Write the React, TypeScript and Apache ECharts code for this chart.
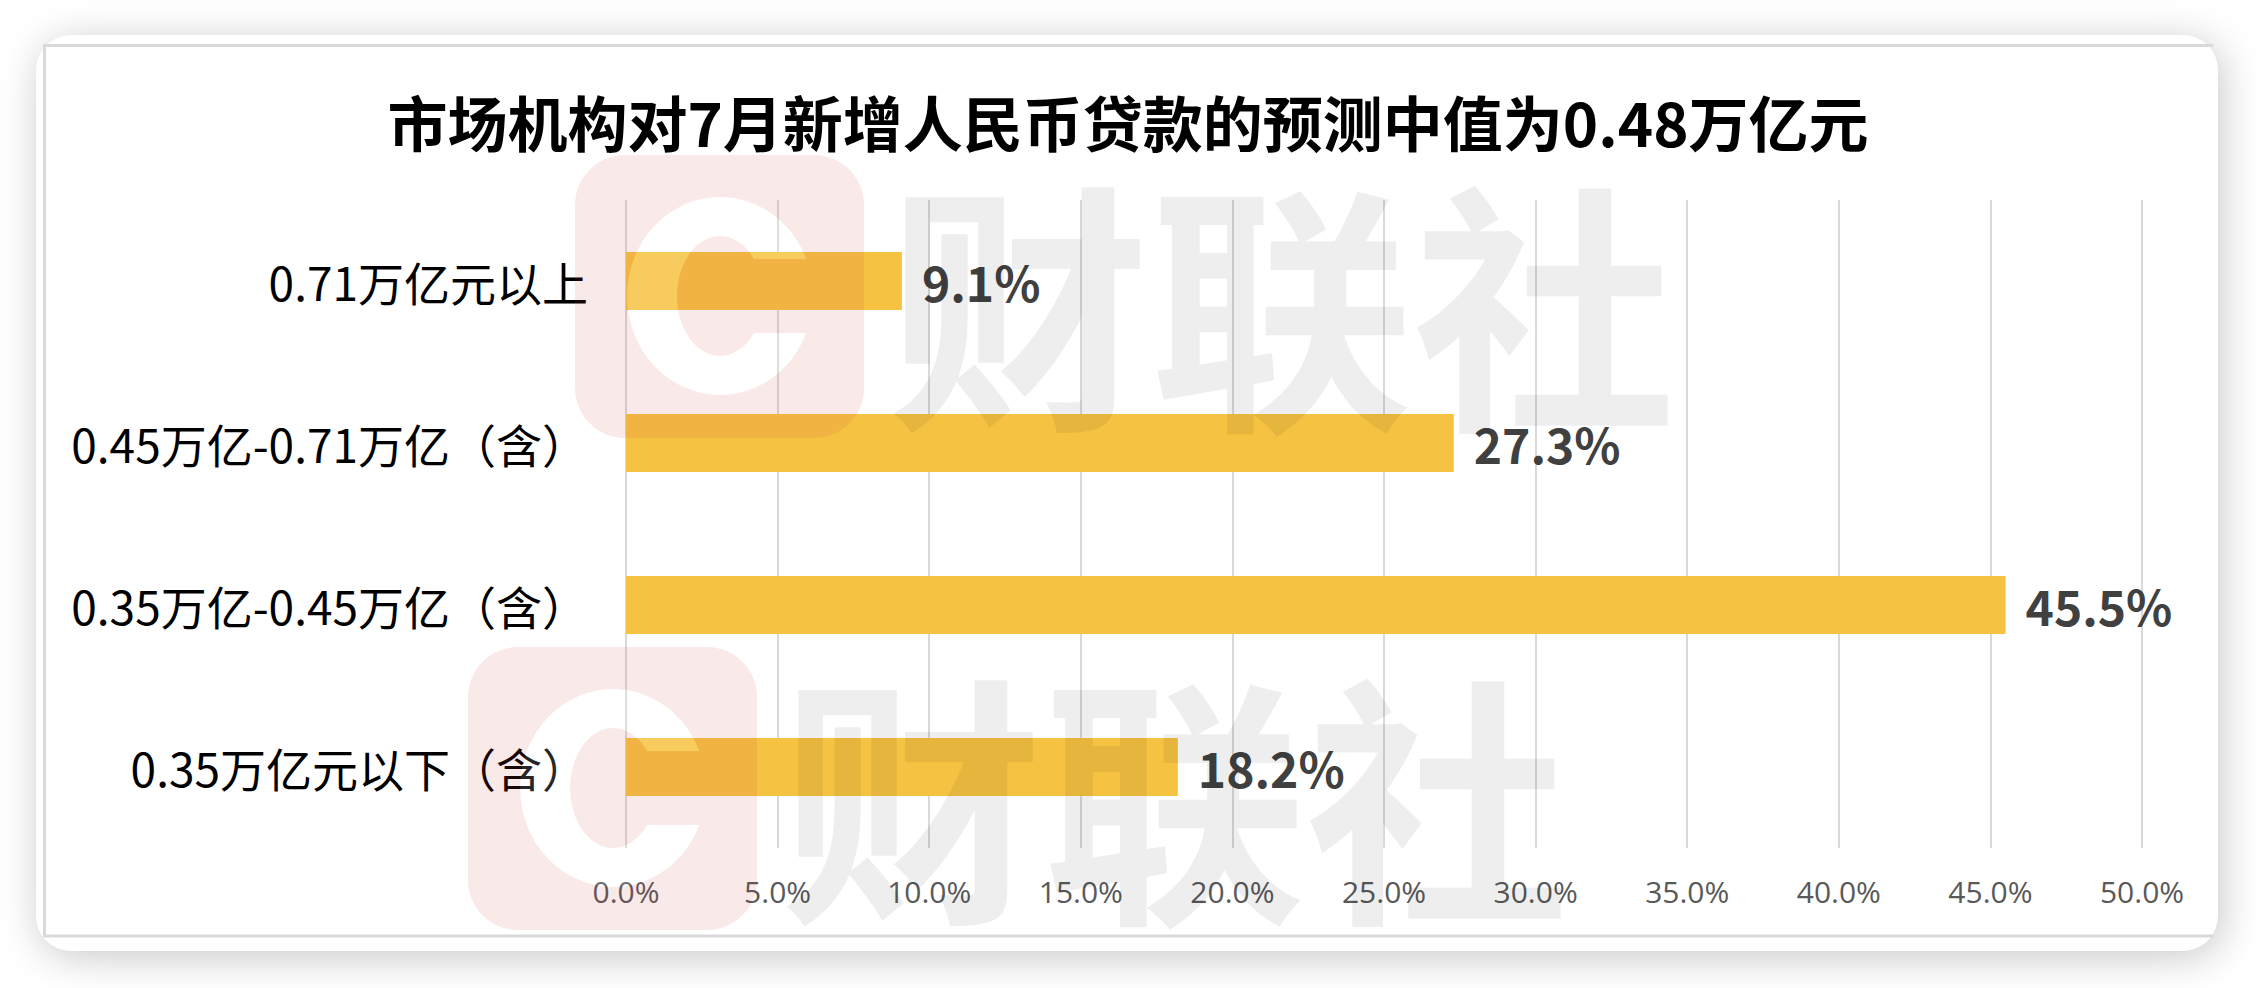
import React, { useEffect, useRef } from "react";
import * as echarts from "echarts";

const categories = [
  "0.71万亿元以上",
  "0.45万亿-0.71万亿（含）",
  "0.35万亿-0.45万亿（含）",
  "0.35万亿元以下（含）",
];
const shares = [9.1, 27.3, 45.5, 18.2];
const axisMin = 0;
const axisMax = 50;
const axisStep = 5;
const titleText = "市场机构对7月新增人民币贷款的预测中值为0.48万亿元";
const watermarkText = "财联社";

const RECT_D =
  "M50 0 H239 A50 50 0 0 1 289 50 V233 A50 50 0 0 1 239 283 H50 A50 50 0 0 1 0 233 V50 A50 50 0 0 1 50 0 Z";
const C_D =
  "M231.3 104 A93 99 0 1 0 231.3 178 L178.9 178 A43 60 0 1 1 178.9 104 Z";

let registered = false;
function registerShapes() {
  if (registered) return;
  registered = true;
  echarts.graphic.registerShape(
    "clsLogo",
    echarts.graphic.extendPath(RECT_D + " " + C_D, {}) as any
  );
  echarts.graphic.registerShape(
    "clsLogoC",
    echarts.graphic.extendPath(C_D, {}) as any
  );
}

export default function App() {
  const ref = useRef<HTMLDivElement>(null);

  useEffect(() => {
    if (!ref.current) return;
    registerShapes();
    const chart = echarts.init(ref.current, undefined, { renderer: "svg" });
    const cjk = "'Noto Sans CJK SC', sans-serif";

    const logo = (x: number, y: number) => [
      {
        type: "clsLogo",
        x,
        y,
        z: 20,
        silent: true,
        style: { fill: "rgba(203,64,64,0.115)" },
      },
      {
        type: "clsLogoC",
        x,
        y,
        z: 20,
        silent: true,
        style: { fill: "rgba(255,255,255,0.15)" },
      },
    ];
    const wmText = (x: number, y: number) => ({
      type: "text",
      x,
      y,
      z: 20,
      silent: true,
      style: {
        text: watermarkText,
        fontSize: 263,
        fontWeight: "bold",
        fontFamily: cjk,
        fill: "rgba(0,0,0,0.067)",
        textVerticalAlign: "middle",
        textAlign: "left",
      },
    });

    chart.setOption({
      animation: false,
      backgroundColor: "transparent",
      title: {
        text: titleText,
        left: "center",
        top: 85,
        textStyle: {
          fontSize: 60,
          fontWeight: "bold",
          color: "#000000",
          fontFamily: cjk,
        },
      },
      grid: { left: 626, right: 114, top: 200, bottom: 140 },
      xAxis: {
        type: "value",
        min: axisMin,
        max: axisMax,
        interval: axisStep,
        axisLine: { show: false },
        axisTick: { show: false },
        splitLine: { show: true, lineStyle: { color: "#D9D9D9", width: 2 } },
        axisLabel: {
          formatter: (v: number) => v.toFixed(1) + "%",
          color: "#595959",
          fontSize: 30,
          fontFamily: "'Open Sans', sans-serif",
          margin: 28,
        },
      },
      yAxis: {
        type: "category",
        data: categories,
        inverse: true,
        axisLine: { show: false },
        axisTick: { show: false },
        axisLabel: {
          color: "#000000",
          fontSize: 46,
          fontFamily: cjk,
          margin: 38,
        },
      },
      series: [
        {
          type: "bar",
          data: shares,
          barWidth: 58,
          itemStyle: { color: "#F6C242" },
          label: {
            show: true,
            position: "right",
            distance: 20,
            formatter: (p: any) => Number(p.value).toFixed(1) + "%",
            color: "#404040",
            fontSize: 48,
            fontWeight: "bold",
            fontFamily: cjk,
          },
        },
      ],
      graphic: [
        {
          type: "polyline",
          z: 1,
          silent: true,
          shape: {
            points: [
              [2213, 45.5],
              [44.5, 45.5],
              [44.5, 936],
              [2213, 936],
            ],
          },
          style: { stroke: "#D9D9D9", lineWidth: 3, fill: null },
        },
        ...logo(575, 155),
        wmText(887, 296),
        ...logo(468, 647),
        wmText(780, 789),
      ],
    });
    return () => chart.dispose();
  }, []);

  return (
    <div
      style={{
        position: "fixed",
        left: 0,
        top: 0,
        width: 2256,
        height: 988,
        background: "#ffffff",
        overflow: "hidden",
      }}
    >
      <div
        style={{
          position: "absolute",
          left: 36,
          top: 35,
          width: 2182,
          height: 916,
          borderRadius: 35,
          background: "#ffffff",
          boxShadow: "4px 6px 40px rgba(0,0,0,0.22)",
        }}
      />
      <div
        ref={ref}
        style={{ position: "absolute", left: 0, top: 0, width: 2256, height: 988 }}
      />
    </div>
  );
}
